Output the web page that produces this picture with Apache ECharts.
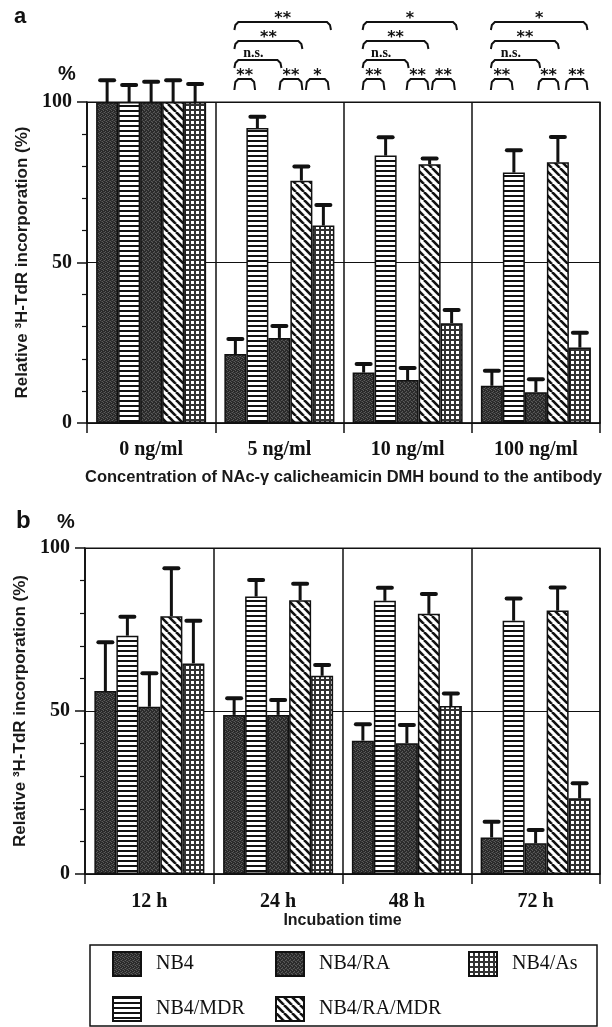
<!DOCTYPE html>
<html>
<head>
<meta charset="utf-8">
<script src="https://cdn.jsdelivr.net/npm/echarts@6/dist/echarts.min.js"></script>
<style>html,body{margin:0;padding:0;background:#fff}#c{width:612px;height:1027px}</style>
</head>
<body>
<div id="c"></div>
<script>
// ---------- data ----------
const seriesNames = ['NB4', 'NB4/MDR', 'NB4/RA', 'NB4/RA/MDR', 'NB4/As'];
const categoriesA = ['0 ng/ml', '5 ng/ml', '10 ng/ml', '100 ng/ml'];
const categoriesB = ['12 h', '24 h', '48 h', '72 h'];
const yTicks = [0, 50, 100];

// panel a: mean values and upper error per series
const aNB4      = [100, 21.5, 15.7, 11.6];
const aNB4MDR   = [100, 91.9, 83.3, 78.0];
const aNB4RA    = [100, 26.5, 13.4, 9.6];
const aNB4RAMDR = [100, 75.5, 80.6, 81.2];
const aNB4As    = [100, 61.5, 31.1, 23.5];
const aErrNB4      = [6.8, 4.7, 2.7, 4.7];
const aErrNB4MDR   = [5.3, 3.5, 5.7, 7.0];
const aErrNB4RA    = [6.3, 3.7, 3.7, 4.0];
const aErrNB4RAMDR = [6.8, 4.4, 1.8, 7.9];
const aErrNB4As    = [5.6, 6.4, 4.1, 4.6];

// panel b
const bNB4      = [56.1, 48.8, 40.9, 11.2];
const bNB4MDR   = [73.1, 85.1, 83.8, 77.7];
const bNB4RA    = [51.3, 48.8, 40.1, 9.4];
const bNB4RAMDR = [79.1, 84.0, 79.8, 80.8];
const bNB4As    = [64.6, 60.8, 51.5, 23.2];
const bErrNB4      = [15.0, 5.1, 5.0, 4.8];
const bErrNB4MDR   = [5.8, 5.1, 4.0, 6.8];
const bErrNB4RA    = [10.3, 4.6, 5.6, 4.1];
const bErrNB4RAMDR = [14.7, 5.0, 6.1, 7.1];
const bErrNB4As    = [13.1, 3.3, 3.9, 4.6];

// significance brackets (panel a): group, from bar, to bar, level, label
const brGroup = [1, 1, 1, 1, 1, 1, 2, 2, 2, 2, 2, 2, 3, 3, 3, 3, 3, 3];
const brFrom  = [0, 2.05, 3.25, 0, 0, 0, 0, 2, 3.15, 0, 0, 0, 0, 2.15, 3.4, 0, 0, 0];
const brTo    = [0.85, 3.0, 4.2, 2.05, 3.0, 4.3, 0.9, 2.9, 4.1, 2.0, 2.9, 4.2, 0.9, 3.0, 4.3, 2.15, 3.0, 4.3];
const brLevel = [0, 0, 0, 1, 2, 3, 0, 0, 0, 1, 2, 3, 0, 0, 0, 1, 2, 3];
const brLabel = ['**', '**', '*', 'n.s.', '**', '**', '**', '**', '**', 'n.s.', '**', '*', '**', '**', '**', 'n.s.', '**', '*'];

const legendRow1 = ['NB4', 'NB4/RA', 'NB4/As'];
const legendRow2 = ['NB4/MDR', 'NB4/RA/MDR'];

// ---------- patterns ----------
function tile(w, h, draw) {
  const c = document.createElement('canvas');
  c.width = w; c.height = h;
  draw(c.getContext('2d'));
  return c;
}
const stipple = tile(4, 4, ctx => {
  ctx.fillStyle = '#2a2a2a'; ctx.fillRect(0, 0, 4, 4);
  ctx.fillStyle = '#5c5c5c';
  [[0,0],[2,1],[1,3],[3,2]].forEach(p => ctx.fillRect(p[0], p[1], 1, 1));
  ctx.fillStyle = '#404040';
  [[1,1],[3,0]].forEach(p => ctx.fillRect(p[0], p[1], 1, 1));
});
const stipple2 = tile(4, 4, ctx => {
  ctx.fillStyle = '#2b2b2b'; ctx.fillRect(0, 0, 4, 4);
  ctx.fillStyle = '#5a5a5a';
  [[1,0],[3,1],[0,2],[2,3]].forEach(p => ctx.fillRect(p[0], p[1], 1, 1));
  ctx.fillStyle = '#424242';
  [[0,1],[2,0]].forEach(p => ctx.fillRect(p[0], p[1], 1, 1));
});
const hstripe = tile(4, 5, ctx => {
  ctx.fillStyle = '#fff'; ctx.fillRect(0, 0, 4, 5);
  ctx.fillStyle = '#111'; ctx.fillRect(0, 0, 4, 2);
});
const diag = tile(8, 8, ctx => {
  ctx.fillStyle = '#fff'; ctx.fillRect(0, 0, 8, 8);
  ctx.strokeStyle = '#111'; ctx.lineWidth = 2.6;
  [-8, 0, 8].forEach(o => { ctx.beginPath(); ctx.moveTo(o, 0); ctx.lineTo(o + 8, 8); ctx.stroke(); });
});
const checker = tile(5, 5, ctx => {
  ctx.fillStyle = '#333'; ctx.fillRect(0, 0, 5, 5);
  ctx.fillStyle = '#fff'; ctx.fillRect(1, 1, 3, 3);
});
const patterns = [stipple, hstripe, stipple2, diag, checker].map(img => ({ image: img, repeat: 'repeat' }));

// ---------- helpers ----------
const BAR_W = 22;
const serifBold = { fontFamily: 'Liberation Serif', fontWeight: 'bold', color: '#111' };
const sansBold = { fontFamily: 'Liberation Sans', fontWeight: 'bold', color: '#1a1a1a' };

const valuesA = [aNB4, aNB4MDR, aNB4RA, aNB4RAMDR, aNB4As];
const errsA = [aErrNB4, aErrNB4MDR, aErrNB4RA, aErrNB4RAMDR, aErrNB4As];
const valuesB = [bNB4, bNB4MDR, bNB4RA, bNB4RAMDR, bNB4As];
const errsB = [bErrNB4, bErrNB4MDR, bErrNB4RA, bErrNB4RAMDR, bErrNB4As];

function xAxisCfg(idx, cats, name, nameGap, margin, nameSize) {
  return {
    type: 'category', gridIndex: idx, data: cats,
    name: name, nameLocation: 'middle', nameGap: nameGap,
    nameTextStyle: Object.assign({ fontSize: nameSize }, sansBold),
    axisLine: { show: true, lineStyle: { color: '#111', width: 1.5 } },
    axisTick: { show: true, length: 10, interval: 0, lineStyle: { color: '#111', width: 1.5 } },
    axisLabel: Object.assign({ fontSize: 20, margin: margin, interval: 0 }, serifBold),
    splitLine: { show: true, interval: 0, lineStyle: { color: '#111', width: 1.5 } }
  };
}
function yAxisCfg(idx, nameGap) {
  return {
    type: 'value', gridIndex: idx, min: 0, max: 100, interval: 50,
    name: 'Relative ³H-TdR incorporation (%)', nameLocation: 'middle', nameRotate: 90, nameGap: nameGap,
    nameTextStyle: Object.assign({ fontSize: 17 }, sansBold),
    axisLine: { show: true, lineStyle: { color: '#111', width: 1.5 } },
    axisTick: { show: true, length: 10, lineStyle: { color: '#111', width: 1.5 } },
    minorTick: { show: true, splitNumber: 5, length: 5, lineStyle: { color: '#111', width: 1.2 } },
    axisLabel: Object.assign({ fontSize: 20, margin: 15,
      formatter: v => (yTicks.indexOf(v) >= 0 ? String(v) : '') }, serifBold),
    splitLine: { show: true, lineStyle: { color: '#111', width: 1.2 } }
  };
}

function renderErr(params, api) {
  const cat = api.value(0), top = api.value(1), s = api.value(2), base = api.value(3);
  const p0 = api.coord([cat, base]);
  const p1 = api.coord([cat, top]);
  const x = p0[0] + (s - 2) * BAR_W;
  return {
    type: 'group', children: [
      { type: 'line', shape: { x1: x, y1: p0[1], x2: x, y2: p1[1] }, style: { stroke: '#111', lineWidth: 3 } },
      { type: 'line', shape: { x1: x - 7, y1: p1[1], x2: x + 7, y2: p1[1] }, style: { stroke: '#111', lineWidth: 4, lineCap: 'round' } }
    ]
  };
}
function errData(values, errs) {
  const out = [];
  values.forEach((arr, s) => arr.forEach((v, c) => out.push([c, v + errs[s][c], s, v])));
  return out;
}

function renderBracket(params, api) {
  const g = api.value(0);
  const from = api.value(2), to = api.value(3), level = api.value(4);
  const label = brLabel[api.value(5)];
  const p = api.coord([g, 100]);
  const x1 = p[0] + (from - 2) * BAR_W;
  const x2 = p[0] + (to - 2) * BAR_W;
  const y = p[1] - 23 - level * 19;
  const leg = level === 0 ? 11 : 8;
  const isNs = label === 'n.s.';
  const tx = isNs ? x1 + 0.4 * (x2 - x1) : (x1 + x2) / 2;
  return {
    type: 'group', children: [
      { type: 'polyline', shape: { points: [[x1 - 1, y + leg], [x1, y + 3], [x1 + 3, y], [x2 - 3, y], [x2, y + 3], [x2 + 1, y + leg]] },
        style: { stroke: '#111', lineWidth: 2, fill: null } },
      { type: 'text', x: tx, y: isNs ? y - 7 : y - 3,
        style: isNs
          ? { text: label, fontFamily: 'Liberation Serif', fontWeight: 'bold', fontSize: 14, fill: '#111', align: 'center', verticalAlign: 'middle' }
          : { text: label, fontFamily: 'DejaVu Sans', fontWeight: 'bold', fontSize: 16, fill: '#111', align: 'center', verticalAlign: 'middle' } }
    ]
  };
}
const bracketData = brGroup.map((g, i) => [g, 100, brFrom[i], brTo[i], brLevel[i], i]);

// ---------- series ----------
const series = [];
[valuesA, valuesB].forEach((vals, c) => {
  vals.forEach((arr, s) => {
    series.push({
      type: 'bar', name: seriesNames[s], xAxisIndex: c, yAxisIndex: c, data: arr,
      barWidth: BAR_W, barGap: '0%',
      itemStyle: { color: patterns[s], borderColor: '#111', borderWidth: 1.5 }
    });
  });
});
series.push({ type: 'custom', xAxisIndex: 0, yAxisIndex: 0, data: errData(valuesA, errsA),
  encode: { x: 0, y: 1 }, renderItem: renderErr, clip: false, z: 5, silent: true });
series.push({ type: 'custom', xAxisIndex: 1, yAxisIndex: 1, data: errData(valuesB, errsB),
  encode: { x: 0, y: 1 }, renderItem: renderErr, clip: false, z: 5, silent: true });
series.push({ type: 'custom', xAxisIndex: 0, yAxisIndex: 0, data: bracketData,
  encode: { x: 0, y: 1 }, renderItem: renderBracket, clip: false, z: 6, silent: true });

// ---------- legends ----------
const legendText = { fontFamily: 'Liberation Serif', fontSize: 20, color: '#111', padding: [0, 0, 0, 10] };
const legendCols = [112, 275, 468];
const legends = [];
legendRow1.forEach((n, i) => legends.push({ data: [n], left: legendCols[i], top: 951, padding: 0, icon: 'rect',
  itemWidth: 28, itemHeight: 24, selectedMode: false, textStyle: legendText }));
legendRow2.forEach((n, i) => legends.push({ data: [n], left: legendCols[i], top: 996, padding: 0, icon: 'rect',
  itemWidth: 28, itemHeight: 24, selectedMode: false, textStyle: legendText }));

const option = {
  animation: false,
  backgroundColor: '#fff',
  grid: [
    { left: 87, right: 12, top: 102, height: 321, show: true, borderColor: '#111', borderWidth: 1.2 },
    { left: 85, right: 12, top: 548, height: 326, show: true, borderColor: '#111', borderWidth: 1.2 }
  ],
  xAxis: [
    xAxisCfg(0, categoriesA, 'Concentration of NAc-γ calicheamicin DMH bound to the antibody', 46, 17, 16.5),
    xAxisCfg(1, categoriesB, 'Incubation time', 39, 18, 16)
  ],
  yAxis: [yAxisCfg(0, 55), yAxisCfg(1, 51)],
  legend: legends,
  series: series,
  graphic: [
    { type: 'text', left: 14, top: 6, style: { text: 'a', fontFamily: 'Liberation Sans', fontWeight: 'bold', fontSize: 22, fill: '#111' } },
    { type: 'text', left: 58, top: 64, style: { text: '%', fontFamily: 'Liberation Sans', fontWeight: 'bold', fontSize: 20, fill: '#111' } },
    { type: 'text', left: 16, top: 509, style: { text: 'b', fontFamily: 'Liberation Sans', fontWeight: 'bold', fontSize: 24, fill: '#111' } },
    { type: 'text', left: 57, top: 512, style: { text: '%', fontFamily: 'Liberation Sans', fontWeight: 'bold', fontSize: 20, fill: '#111' } },
    { type: 'rect', shape: { x: 90, y: 945, width: 507, height: 81 }, style: { fill: null, stroke: '#111', lineWidth: 1.5 }, z: -1 }
  ]
};

const chart = echarts.init(document.getElementById('c'));
chart.setOption(option);
</script>
</body>
</html>
